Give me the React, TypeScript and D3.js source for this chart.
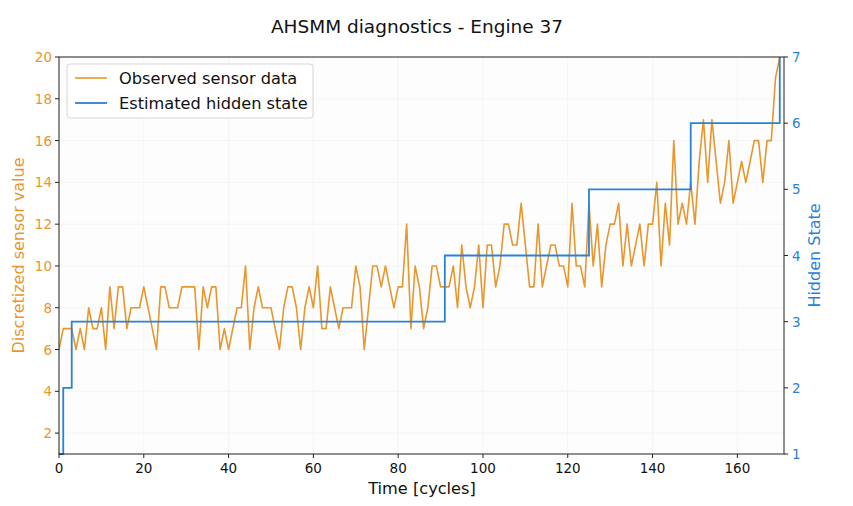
import React from "react";
import * as d3 from "d3";

const sensorValues: number[] = [
  6, 7, 7, 7, 6, 7, 6, 8, 7, 7, 8, 6, 9, 7, 9, 9, 7, 8, 8, 8,
  9, 8, 7, 6, 9, 9, 8, 8, 8, 9, 9, 9, 9, 6, 9, 8, 9, 9, 6, 7,
  6, 7, 8, 8, 10, 6, 8, 9, 8, 8, 8, 7, 6, 8, 9, 9, 8, 6, 8, 9,
  8, 10, 7, 7, 9, 8, 7, 8, 8, 8, 10, 9, 6, 8, 10, 10, 9, 10, 9, 8,
  9, 9, 12, 7, 10, 9, 7, 8, 10, 10, 9, 9, 9, 10, 8, 11, 9, 8, 9, 11,
  8, 11, 11, 9, 10, 12, 12, 11, 11, 13, 11, 9, 9, 12, 9, 10, 11, 11, 10, 10,
  9, 13, 10, 10, 9, 13, 10, 12, 9, 11, 12, 12, 13, 10, 12, 10, 11, 12, 10, 12,
  12, 14, 10, 13, 11, 16, 12, 13, 12, 14, 12, 15, 17, 14, 17, 15, 13, 14, 16, 13,
  14, 15, 14, 15, 16, 16, 14, 16, 16, 19, 20,
];

const stateChangeCycles: number[] = [0, 1, 3, 91, 125, 149, 170];
const stateValues: number[] = [1, 2, 3, 4, 5, 6, 7];

const xTicks: number[] = [0, 20, 40, 60, 80, 100, 120, 140, 160];
const leftTicks: number[] = [2, 4, 6, 8, 10, 12, 14, 16, 18, 20];
const rightTicks: number[] = [1, 2, 3, 4, 5, 6, 7];

const ORANGE = "#e8962e";
const BLUE = "#2a82d8";
const FONT = "DejaVu Sans, sans-serif";

export default function App() {
  const W = 853;
  const H = 506;
  const left = 59;
  const right = 784;
  const top = 57;
  const bottom = 454;

  const x = d3.scaleLinear().domain([0, 171]).range([left, right]);
  const yL = d3.scaleLinear().domain([1, 20]).range([bottom, top]);
  const yR = d3.scaleLinear().domain([1, 7]).range([bottom, top]);

  const sensorLine = d3
    .line<number>()
    .x((_, i) => x(i))
    .y((d) => yL(d))(sensorValues) as string;

  const statePts: [number, number][] = stateChangeCycles.map((c, i) => [c, stateValues[i]]);
  const stateLine = d3
    .line<[number, number]>()
    .curve(d3.curveStepAfter)
    .x((d) => x(d[0]))
    .y((d) => yR(d[1]))(statePts) as string;

  return (
    <svg
      width={W}
      height={H}
      style={{ position: "absolute", left: 0, top: 0, background: "#ffffff" }}
      fontFamily={FONT}
    >
      <rect x={0} y={0} width={W} height={H} fill="#ffffff" />
      <rect x={left} y={top} width={right - left} height={bottom - top} fill="#fdfdfd" />
      <defs>
        <clipPath id="plotclip">
          <rect x={left} y={top - 1} width={right - left} height={bottom - top + 2} />
        </clipPath>
      </defs>

      {xTicks.map((t) => (
        <line key={"gx" + t} x1={x(t)} x2={x(t)} y1={top} y2={bottom} stroke="#f3f3f3" strokeWidth={0.8} />
      ))}
      {leftTicks.map((t) => (
        <line key={"gy" + t} x1={left} x2={right} y1={yL(t)} y2={yL(t)} stroke="#f3f3f3" strokeWidth={0.8} />
      ))}

      <g clipPath="url(#plotclip)">
        <path d={sensorLine} fill="none" stroke={ORANGE} strokeWidth={1.6} strokeLinejoin="round" />
        <path d={stateLine} fill="none" stroke={BLUE} strokeWidth={1.8} />
      </g>

      <rect x={left} y={top} width={right - left} height={bottom - top} fill="none" stroke="#222" strokeWidth={1} />

      {xTicks.map((t) => (
        <g key={"xt" + t}>
          <line x1={x(t)} x2={x(t)} y1={bottom} y2={bottom + 4} stroke="#222" strokeWidth={1} />
          <text x={x(t)} y={bottom + 19} textAnchor="middle" fontSize={13.5} fill="#111">
            {t}
          </text>
        </g>
      ))}

      {leftTicks.map((t) => (
        <g key={"lt" + t}>
          <line x1={left - 4} x2={left} y1={yL(t)} y2={yL(t)} stroke="#222" strokeWidth={1} />
          <text x={left - 7} y={yL(t) + 5} textAnchor="end" fontSize={13.5} fill={ORANGE}>
            {t}
          </text>
        </g>
      ))}

      {rightTicks.map((t) => (
        <g key={"rt" + t}>
          <line x1={right} x2={right + 4} y1={yR(t)} y2={yR(t)} stroke="#222" strokeWidth={1} />
          <text x={right + 8} y={yR(t) + 5} textAnchor="start" fontSize={13.5} fill={BLUE}>
            {t}
          </text>
        </g>
      ))}

      <text x={417} y={33} textAnchor="middle" fontSize={18.5} fill="#111">
        AHSMM diagnostics - Engine 37
      </text>

      <text x={(left + right) / 2 + 0.5} y={494} textAnchor="middle" fontSize={16.2} fill="#111">
        Time [cycles]
      </text>
      <text
        transform={`translate(24, ${(top + bottom) / 2}) rotate(-90)`}
        textAnchor="middle"
        fontSize={16}
        fill={ORANGE}
      >
        Discretized sensor value
      </text>
      <text
        transform={`translate(820, ${(top + bottom) / 2}) rotate(-90)`}
        textAnchor="middle"
        fontSize={16}
        fill={BLUE}
      >
        Hidden State
      </text>

      <g>
        <rect x={67} y={64} width={246} height={54} rx={3} fill="#ffffff" fillOpacity={0.85} stroke="#d6d6d6" strokeWidth={1} />
        <line x1={75} x2={107} y1={78} y2={78} stroke={ORANGE} strokeWidth={1.6} />
        <text x={119} y={84} fontSize={16.2} fill="#111">
          Observed sensor data
        </text>
        <line x1={75} x2={107} y1={103} y2={103} stroke={BLUE} strokeWidth={1.8} />
        <text x={119} y={109} fontSize={16.2} fill="#111">
          Estimated hidden state
        </text>
      </g>
    </svg>
  );
}
